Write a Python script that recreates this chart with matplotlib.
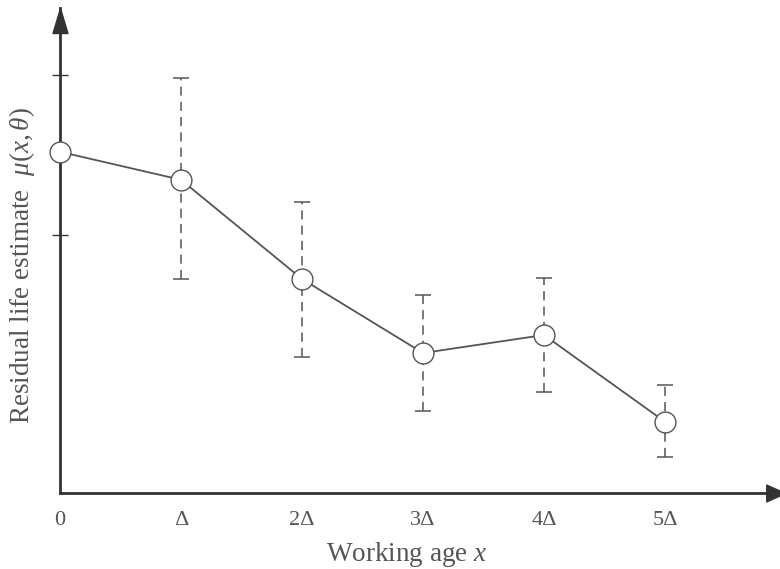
import matplotlib
matplotlib.use("Agg")
import matplotlib.pyplot as plt
from matplotlib.path import Path

# ---- data (arbitrary units) ----
ages = [0, 1, 2, 3, 4, 5]
tick_labels = ["0", "Δ", "2Δ", "3Δ", "4Δ", "5Δ"]
estimate = [8.53, 7.83, 5.35, 3.50, 3.95, 1.78]
upper = [None, 10.38, 7.28, 4.95, 5.38, 2.70]
lower = [None, 5.35, 3.40, 2.05, 2.53, 0.90]
y_ticks = [6.45, 10.45]

plt.rcParams["font.family"] = ["Liberation Serif", "DejaVu Serif"]
plt.rcParams["mathtext.fontset"] = "custom"
plt.rcParams["mathtext.rm"] = "Liberation Serif"
plt.rcParams["mathtext.it"] = "Liberation Serif:italic"

W, H = 780, 569
fig = plt.figure(figsize=(W / 100, H / 100), dpi=100)
ax_left, ax_bottom_px, ax_top_px = 60, 493, 8
ax = fig.add_axes([ax_left / W, (H - ax_bottom_px) / H, (W - ax_left) / W,
                   (ax_bottom_px - ax_top_px) / H])
ax.set_xlim(0, (W - ax_left) / 121.0)
ax.set_ylim(0, (ax_bottom_px - ax_top_px) / 40.0)

axis_col = "#333333"
line_col = "#555555"
text_col = "#555555"

for s in ["top", "right"]:
    ax.spines[s].set_visible(False)
for s in ["left", "bottom"]:
    ax.spines[s].set_color(axis_col)
    ax.spines[s].set_linewidth(2)

# arrowheads (tip at the marker origin)
up_marker = Path([(-0.30, -1), (0.30, -1), (0, 0), (-0.30, -1)],
                 [Path.MOVETO, Path.LINETO, Path.LINETO, Path.CLOSEPOLY])
right_marker = Path([(-1, -0.45), (-1, 0.45), (0, 0), (-1, -0.45)],
                    [Path.MOVETO, Path.LINETO, Path.LINETO, Path.CLOSEPOLY])
ax.plot(0, 1, marker=up_marker, markersize=36, color=axis_col,
        transform=ax.get_xaxis_transform(), clip_on=False, zorder=5)
ax.plot(1.007, 0, marker=right_marker, markersize=27, color=axis_col,
        transform=ax.get_yaxis_transform(), clip_on=False, zorder=5)

# error bars (dashed stems, solid caps)
eb_x = [a for a, u in zip(ages, upper) if u is not None]
eb_y = [e for e, u in zip(estimate, upper) if u is not None]
eb_lo = [e - l for e, l, u in zip(estimate, lower, upper) if u is not None]
eb_hi = [u - e for e, u in zip(estimate, upper) if u is not None]
cont = ax.errorbar(eb_x, eb_y, yerr=[eb_lo, eb_hi], fmt="none", ecolor=line_col,
                   elinewidth=1.1, capsize=5.5, capthick=1.1, zorder=2)
for lc in cont[2]:
    lc.set_linestyle((0, (6, 4)))

# main line
ax.plot(ages, estimate, color=line_col, linewidth=1.3, marker="o",
        markersize=15, markerfacecolor="white", markeredgecolor=line_col,
        markeredgewidth=1.0, zorder=3, clip_on=False)

ax.set_xticks(ages)
ax.set_xticklabels(tick_labels)
ax.tick_params(axis="x", length=0, pad=13, labelsize=16, labelcolor=text_col)
ax.set_yticks(y_ticks)
ax.set_yticklabels([])
ax.tick_params(axis="y", direction="inout", length=12, width=1.0, color=axis_col)

ax.set_xlabel(r"Working age $x$", fontsize=19.5, color=text_col)
ax.xaxis.set_label_coords(0.482, -0.096)
ax.set_ylabel(r"Residual life estimate  $\mu(x,\theta)$", fontsize=19.5,
              color=text_col)
ax.yaxis.set_label_coords(-0.032, 0.47)

fig.savefig("out.png", dpi=100)
